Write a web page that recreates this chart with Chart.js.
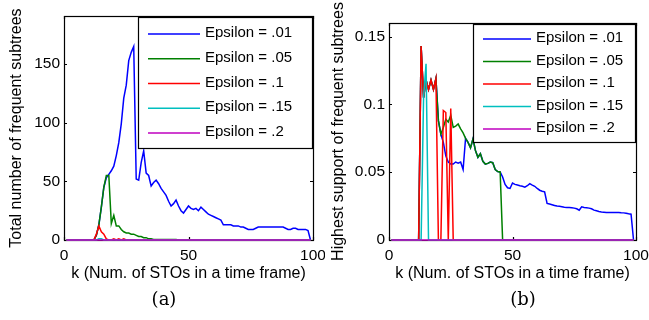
<!DOCTYPE html>
<html>
<head>
<meta charset="utf-8">
<script src="https://cdn.jsdelivr.net/npm/chart.js@4/dist/chart.umd.min.js"></script>
<style>
body{margin:0;background:#fff;width:649px;height:320px;position:relative;overflow:hidden}
.box{position:absolute;top:0}
.cap{position:absolute;font-family:"DejaVu Serif","Liberation Serif",serif;font-size:18px;color:#000;transform:translate(-50%,-50%);white-space:nowrap}
</style>
</head>
<body>
<div class="box" style="left:0"><canvas id="chartA" width="325" height="290"></canvas></div>
<div class="box" style="left:325px"><canvas id="chartB" width="324" height="290"></canvas></div>
<div class="cap" style="left:164px;top:298px">(a)</div>
<div class="cap" style="left:523px;top:298px">(b)</div>
<script>
// k = number of STOs in a time frame
var k = [1,2,3,4,5,6,7,8,9,10,11,12,13,14,15,16,17,18,19,20,
  21,22,23,24,25,26,27,28,29,30,31,32,33,34,35,36,37,38,39,40,
  41,42,43,44,45,46,47,48,49,50,51,52,53,54,55,56,57,58,59,60,
  61,62,63,64,65,66,67,68,69,70,71,72,73,74,75,76,77,78,79,80,
  81,82,83,84,85,86,87,88,89,90,91,92,93,94,95,96,97,98,99];

var epsLabels = ['Epsilon = .01', 'Epsilon = .05', 'Epsilon = .1', 'Epsilon = .15', 'Epsilon = .2'];
var kTicks = [0, 50, 100];
var countTicks = [0, 50, 100, 150];
var supportTicks = [0, 0.05, 0.1, 0.15];

// (a) total number of frequent subtrees
var countEps01 = [0,0,0,0,0,0,0,0,0,0,
  0,0,4,13,28,45,53,56,59,63,
  72,83,99,121,132,153,160,165,52,51,
  66,76,57,55,46,49,51,48,44,41,
  38,33,29,31,34,29,25,23,26,29,
  27,26,27,25,28,26,24,22,21,20,
  19,18,17,13,13,13,13,12,12,12,
  11,11,10,9,9,9,10,11,11,11,
  11,11,11,11,11,11,11,11,10,9,
  9,10,10,9,9,9,9,8,0];
var countEps05 = [0,0,0,0,0,0,0,0,0,0,
  0,0,4,13,28,45,55,55,14,21,
  12,12,9,7,6,6,5,5,4,3,
  3,2,2,1,1,0.5,0.5,0.5,0.5,0.5,
  0.5,0.5,0.5,0.5,0.5,0,0,0,0,0,
  0,0,0,0,0,0,0,0,0,0,
  0,0,0,0,0,0,0,0,0,0,
  0,0,0,0,0,0,0,0,0,0,
  0,0,0,0,0,0,0,0,0,0,
  0,0,0,0,0,0,0,0,0];
var countEps1 = [0,0,0,0,0,0,0,0,0,0,
  0,0,5,12,7,5,1,0,0,1,
  0,1,0,1,0,0,0,0,0,0,
  0,0,0,0,0,0,0,0,0,0,
  0,0,0,0,0,0,0,0,0,0,
  0,0,0,0,0,0,0,0,0,0,
  0,0,0,0,0,0,0,0,0,0,
  0,0,0,0,0,0,0,0,0,0,
  0,0,0,0,0,0,0,0,0,0,
  0,0,0,0,0,0,0,0,0];
var countEps15 = [0,0,0,0,0,0,0,0,0,0,
  0,0,0,1,1,0,0,0,0,0,
  0,0,0,0,0,0,0,0,0,0,
  0,0,0,0,0,0,0,0,0,0,
  0,0,0,0,0,0,0,0,0,0,
  0,0,0,0,0,0,0,0,0,0,
  0,0,0,0,0,0,0,0,0,0,
  0,0,0,0,0,0,0,0,0,0,
  0,0,0,0,0,0,0,0,0,0,
  0,0,0,0,0,0,0,0,0];
var countEps2 = [0,0,0,0,0,0,0,0,0,0,
  0,0,0,0,0,0,0,0,0,0,
  0,0,0,0,0,0,0,0,0,0,
  0,0,0,0,0,0,0,0,0,0,
  0,0,0,0,0,0,0,0,0,0,
  0,0,0,0,0,0,0,0,0,0,
  0,0,0,0,0,0,0,0,0,0,
  0,0,0,0,0,0,0,0,0,0,
  0,0,0,0,0,0,0,0,0,0,
  0,0,0,0,0,0,0,0,0];

// (b) highest support of frequent subtrees
var supportEps01 = [0,0,0,0,0,0,0,0,0,0,
  0,0,0.143,0.105,0.118,0.111,0.118,0.111,0.119,0.088,
  0.078,0.072,0.062,0.0575,0.056,0.056,0.0575,0.0567,0.0575,0.052,
  0.075,0.072,0.068,0.0745,0.066,0.061,0.0636,0.058,0.056,0.0565,
  0.0575,0.057,0.052,0.0505,0.0502,0.0465,0.041,0.0385,0.038,0.042,
  0.041,0.0405,0.04,0.0396,0.039,0.04,0.0416,0.0405,0.0396,0.038,
  0.0367,0.036,0.0355,0.027,0.0265,0.026,0.0255,0.025,0.0248,0.0245,
  0.0242,0.024,0.024,0.0238,0.0235,0.023,0.022,0.0245,0.024,0.0238,
  0.0235,0.023,0.022,0.0215,0.021,0.0207,0.0205,0.0203,0.0203,0.0203,
  0.0203,0.0203,0.0203,0.0201,0.02,0.0197,0.0193,0.019,0];
var supportEps05 = [0,0,0,0,0,0,0,0,0,0,
  0,0,0.143,0.105,0.118,0.111,0.118,0.111,0.119,0.088,
  0.078,0.083,0.089,0.087,0.092,0.083,0.084,0.0855,0.082,0.079,
  0.075,0.072,0.068,0.0745,0.066,0.061,0.0636,0.058,0.056,0.0565,
  0.0575,0.057,0.052,0.0505,0.0502,0,0,0,0,0,
  0,0,0,0,0,0,0,0,0,0,
  0,0,0,0,0,0,0,0,0,0,
  0,0,0,0,0,0,0,0,0,0,
  0,0,0,0,0,0,0,0,0,0,
  0,0,0,0,0,0,0,0,0];
var supportEps1 = [0,0,0,0,0,0,0,0,0,0,
  0,0,0.143,0.105,0.118,0.111,0.118,0.111,0.119,0,
  0,0.0955,0.094,0,0.097,0,0,0,0,0,
  0,0,0,0,0,0,0,0,0,0,
  0,0,0,0,0,0,0,0,0,0,
  0,0,0,0,0,0,0,0,0,0,
  0,0,0,0,0,0,0,0,0,0,
  0,0,0,0,0,0,0,0,0,0,
  0,0,0,0,0,0,0,0,0,0,
  0,0,0,0,0,0,0,0,0];
var supportEps15 = [0,0,0,0,0,0,0,0,0,0,
  0,0,0,0.105,0.13,0,0,0,0,0,
  0,0,0,0,0,0,0,0,0,0,
  0,0,0,0,0,0,0,0,0,0,
  0,0,0,0,0,0,0,0,0,0,
  0,0,0,0,0,0,0,0,0,0,
  0,0,0,0,0,0,0,0,0,0,
  0,0,0,0,0,0,0,0,0,0,
  0,0,0,0,0,0,0,0,0,0,
  0,0,0,0,0,0,0,0,0];
var supportEps2 = [0,0,0,0,0,0,0,0,0,0,
  0,0,0,0,0,0,0,0,0,0,
  0,0,0,0,0,0,0,0,0,0,
  0,0,0,0,0,0,0,0,0,0,
  0,0,0,0,0,0,0,0,0,0,
  0,0,0,0,0,0,0,0,0,0,
  0,0,0,0,0,0,0,0,0,0,
  0,0,0,0,0,0,0,0,0,0,
  0,0,0,0,0,0,0,0,0,0,
  0,0,0,0,0,0,0,0,0];

var lineColors = ['#0000ff', '#008000', '#ff0000', '#00bfbf', '#bf00bf'];
var sansFont = '"Liberation Sans", Arial, sans-serif';

Chart.defaults.font.family = sansFont;
Chart.defaults.color = '#000';

// matlab style box with inward ticks, drawn under the lines
var matlabBox = {
  id: 'matlabBox',
  beforeDatasetsDraw: function(chart) {
    var ctx = chart.ctx, a = chart.chartArea, sx = chart.scales.x, sy = chart.scales.y;
    ctx.save();
    ctx.strokeStyle = '#000';
    ctx.lineWidth = 1.2;
    ctx.strokeRect(a.left + 0.5, a.top + 0.5, a.right - a.left, a.bottom - a.top);
    ctx.beginPath();
    sx.ticks.forEach(function(t) {
      var p = Math.round(sx.getPixelForValue(t.value)) + 0.5;
      ctx.moveTo(p, a.bottom); ctx.lineTo(p, a.bottom - 3);
      ctx.moveTo(p, a.top); ctx.lineTo(p, a.top + 3);
    });
    sy.ticks.forEach(function(t) {
      var p = Math.round(sy.getPixelForValue(t.value)) + 0.5;
      ctx.moveTo(a.left, p); ctx.lineTo(a.left + 3, p);
      ctx.moveTo(a.right, p); ctx.lineTo(a.right - 3, p);
    });
    ctx.stroke();
    ctx.restore();
  }
};

// legend box in the top right corner
var boxLegend = {
  id: 'boxLegend',
  afterDraw: function(chart, args, o) {
    var ctx = chart.ctx;
    ctx.save();
    ctx.fillStyle = '#fff';
    ctx.fillRect(o.x, o.y, o.w, o.h);
    ctx.strokeStyle = '#000';
    ctx.lineWidth = 1.2;
    ctx.strokeRect(o.x + 0.5, o.y + 0.5, o.w, o.h);
    ctx.font = '15px ' + sansFont;
    ctx.textBaseline = 'middle';
    ctx.textAlign = 'left';
    chart.data.datasets.forEach(function(ds, i) {
      var y = o.rowTop + i * o.rowGap;
      ctx.strokeStyle = ds.borderColor;
      ctx.lineWidth = 1.5;
      ctx.beginPath();
      ctx.moveTo(o.lineX0, y); ctx.lineTo(o.lineX1, y);
      ctx.stroke();
      ctx.fillStyle = '#000';
      ctx.fillText(ds.label, o.textX, y - 1);
    });
    ctx.restore();
  }
};

function makeSets(seriesList) {
  return seriesList.map(function(vals, i) {
    return {
      label: epsLabels[i],
      data: k.map(function(x, j) { return {x: x, y: vals[j]}; }),
      borderColor: lineColors[i],
      borderWidth: 1.5,
      pointRadius: 0,
      tension: 0,
      clip: false,
      order: seriesList.length - i
    };
  });
}

function makeChart(id, sets, yMax, yTicks, yTitle, yTitlePad, pad, legendOpts) {
  return new Chart(document.getElementById(id), {
    type: 'line',
    data: {datasets: sets},
    plugins: [matlabBox, boxLegend],
    options: {
      responsive: false,
      animation: false,
      layout: {padding: pad},
      plugins: {legend: {display: false}, tooltip: {enabled: false}, boxLegend: legendOpts},
      scales: {
        x: {
          type: 'linear', min: 0, max: 100,
          grid: {display: false, drawTicks: false}, border: {display: false},
          afterBuildTicks: function(s) { s.ticks = kTicks.map(function(v) { return {value: v}; }); },
          afterFit: function(s) { s.height = 50; s.paddingLeft = 0; s.paddingRight = 0; },
          ticks: {padding: 6, maxRotation: 0, font: {size: 15.5}, callback: function(v) { return String(v); }},
          title: {display: true, text: 'k (Num. of STOs in a time frame)', font: {size: 16}, padding: {top: 0, bottom: 6.4}}
        },
        y: {
          min: 0, max: yMax,
          grid: {display: false, drawTicks: false}, border: {display: false},
          afterBuildTicks: function(s) { s.ticks = yTicks.map(function(v) { return {value: v}; }); },
          afterFit: function(s) { s.width = 64; s.paddingTop = 0; s.paddingBottom = 0; },
          ticks: {padding: 4, font: {size: 15.5}, callback: function(v) { return String(v); }},
          title: {display: true, text: yTitle, font: {size: 16}, padding: {top: yTitlePad, bottom: 0}}
        }
      }
    }
  });
}

makeChart('chartA',
  makeSets([countEps01, countEps05, countEps1, countEps15, countEps2]),
  191, countTicks, 'Total number of frequent subtrees', 6.6,
  {left: 0, top: 16, right: 12, bottom: 0},
  {x: 138, y: 17, w: 174, h: 131, rowTop: 34, rowGap: 24.75, lineX0: 148, lineX1: 200, textX: 205});

makeChart('chartB',
  makeSets([supportEps01, supportEps05, supportEps1, supportEps15, supportEps2]),
  0.16, supportTicks, 'Highest support of frequent subtrees', 3.9,
  {left: 0, top: 23, right: 13, bottom: 0},
  {x: 148, y: 24, w: 162, h: 118, rowTop: 39, rowGap: 22.5, lineX0: 158, lineX1: 206, textX: 211});
</script>
</body>
</html>
